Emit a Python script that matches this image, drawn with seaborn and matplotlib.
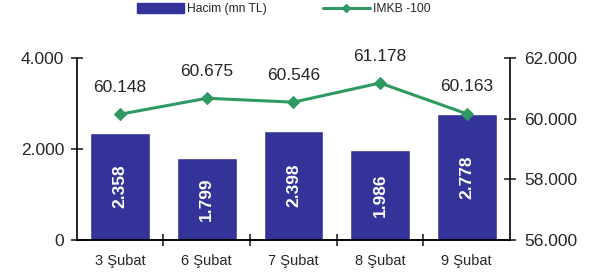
import numpy as np
import pandas as pd
import seaborn as sns
import matplotlib.pyplot as plt
from matplotlib.patches import Patch
from matplotlib.lines import Line2D
from matplotlib.ticker import FuncFormatter, FixedLocator

dates = ["3 Şubat", "6 Şubat", "7 Şubat", "8 Şubat", "9 Şubat"]
hacim = [2358, 1799, 2398, 1986, 2778]
imkb = [60148, 60675, 60546, 61178, 60163]

sns.set_style("white")
plt.rcParams["font.family"] = ["Liberation Sans", "DejaVu Sans"]

bar_color = "#333399"
line_color = "#2E9A62"

def tr_fmt(v, pos=None):
    return f"{v:,.0f}".replace(",", ".")

fig = plt.figure(figsize=(6.05, 2.78), dpi=100)
ax = fig.add_axes([0.127, 0.137, 0.716, 0.654])

df = pd.DataFrame({"date": dates, "hacim": hacim})
sns.barplot(data=df, x="date", y="hacim", color=bar_color, width=0.69,
            saturation=1, ax=ax)
ax.set_ylim(0, 4000)
ax.set_xlim(-0.5, 4.5)
ax.set_yticks([0, 2000, 4000])
ax.yaxis.set_major_formatter(FuncFormatter(tr_fmt))
ax.set_xlabel("")
ax.set_ylabel("")

# bar values, white, rotated inside bars
for i, v in enumerate(hacim):
    ax.text(i, v / 2, tr_fmt(v), rotation=90, ha="center", va="center",
            color="white", fontsize=12.5, fontweight="bold")

ax2 = ax.twinx()
sns.lineplot(x=np.arange(len(dates)), y=imkb, ax=ax2, color=line_color,
             marker="D", markersize=6, markeredgecolor=line_color, linewidth=2.2)
ax2.set_ylim(56000, 62000)
ax2.set_yticks([56000, 58000, 60000, 62000])
ax2.yaxis.set_major_formatter(FuncFormatter(tr_fmt))
for i, v in enumerate(imkb):
    ax2.text(i, v + 640, tr_fmt(v), ha="center", va="bottom", fontsize=12.5)

for a in (ax, ax2):
    a.spines["top"].set_visible(False)
    for s in ["left", "right", "bottom"]:
        a.spines[s].set_color("black")
        a.spines[s].set_linewidth(1.2)
ax.spines["right"].set_visible(False)
ax2.spines["left"].set_visible(False)

ax.tick_params(axis="y", direction="inout", length=8, width=1.2, labelsize=12.5,
               left=True, pad=5)
ax2.tick_params(axis="y", direction="inout", length=8, width=1.2, labelsize=12.5,
                right=True, pad=6)
ax.tick_params(axis="x", which="major", length=0, labelsize=10.5, pad=10)
ax.xaxis.set_minor_locator(FixedLocator([0.5, 1.5, 2.5, 3.5]))
ax.tick_params(axis="x", which="minor", direction="inout", length=8, width=1.2,
               bottom=True)

handles = [Patch(facecolor=bar_color, edgecolor=bar_color),
           Line2D([0], [0], color=line_color, marker="D", markersize=4, linewidth=2.2)]
fig.legend(handles, ["Hacim (mn TL)", "IMKB -100"], loc="center",
           bbox_to_anchor=(0.469, 0.967), ncol=2, frameon=False, fontsize=8.7,
           handlelength=3.9, handleheight=0.8, columnspacing=4.6,
           handletextpad=0.25, borderpad=0)

fig.savefig("out.png", dpi=100)
